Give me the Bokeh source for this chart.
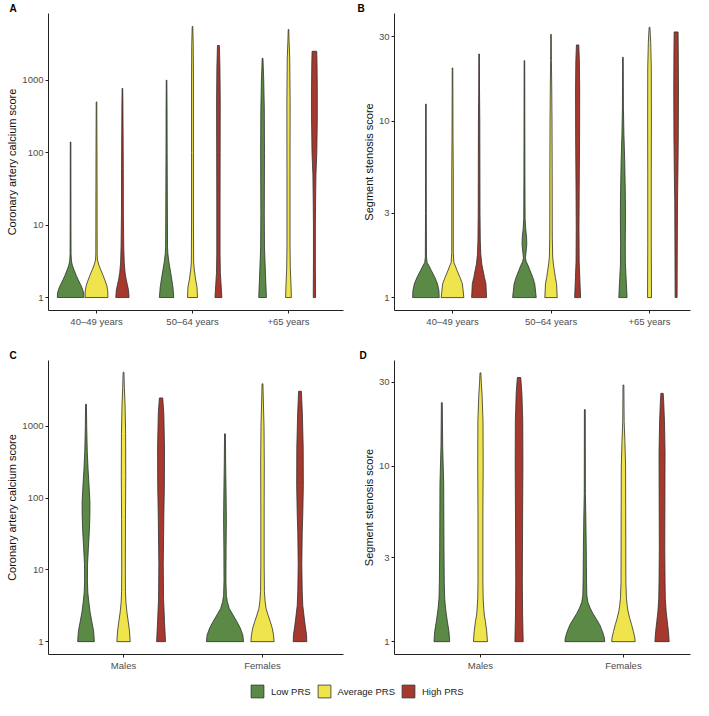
from bokeh.plotting import figure
from bokeh.models import Range1d, FixedTicker, PrintfTickFormatter, Legend, LegendItem, Title
from bokeh.layouts import column, row
from bokeh.embed import file_html
from bokeh.resources import INLINE

# ---------------- data ----------------
age_groups = ["40\u201349 years", "50\u201364 years", "+65 years"]
sex_groups = ["Males", "Females"]
prs_groups = ["Low PRS", "Average PRS", "High PRS"]
prs_colors = ["#5A8A45", "#F0E44C", "#A6392D"]

cac_ticks = [1, 10, 100, 1000]
sss_ticks = [1, 3, 10, 30]

cac_title = "Coronary artery calcium score"
sss_title = "Segment stenosis score"
panel_letters = ["A", "B", "C", "D"]

# Violin outlines: (score, half-width in category units), bottom to top
# Panel A: CAC by age group
cac_age_4049_low = [(1, 0.138), (1.15, 0.136), (1.3, 0.125), (1.5, 0.105), (1.75, 0.080), (2.0, 0.060),
                    (2.4, 0.036), (2.8, 0.018), (3.2, 0.009), (4.0, 0.005), (10, 0.004), (140, 0.003)]
cac_age_4049_avg = [(1, 0.119), (1.2, 0.118), (1.45, 0.108), (1.7, 0.090), (2.0, 0.070), (2.4, 0.045),
                    (2.8, 0.025), (3.3, 0.010), (4.0, 0.007), (30, 0.006), (100, 0.005), (500, 0.003)]
cac_age_4049_high = [(1, 0.069), (1.25, 0.064), (1.5, 0.052), (1.75, 0.040), (2.2, 0.028), (3, 0.019),
                     (5, 0.014), (14, 0.010), (60, 0.009), (200, 0.007), (500, 0.005), (770, 0.003)]
cac_age_5064_low = [(1, 0.075), (1.4, 0.066), (1.75, 0.055), (2.4, 0.038), (3.1, 0.024), (4, 0.014),
                    (5, 0.010), (20, 0.008), (100, 0.006), (400, 0.005), (1000, 0.003)]
cac_age_5064_avg = [(1, 0.052), (1.4, 0.047), (1.75, 0.033), (2.4, 0.019), (3.1, 0.012), (10, 0.010),
                    (100, 0.010), (1000, 0.010), (3000, 0.008), (5500, 0.003)]
cac_age_5064_high = [(1, 0.036), (1.5, 0.028), (2.2, 0.020), (4, 0.017), (20, 0.017), (100, 0.018),
                     (500, 0.019), (1500, 0.016), (3000, 0.010)]
cac_age_65_low = [(1, 0.040), (1.7, 0.033), (3, 0.026), (5, 0.020), (14, 0.018), (100, 0.020),
                  (400, 0.018), (1000, 0.012), (2000, 0.004)]
cac_age_65_avg = [(1, 0.030), (1.5, 0.026), (2.5, 0.019), (5, 0.016), (50, 0.016), (500, 0.017),
                  (2000, 0.013), (3500, 0.006), (5000, 0.003)]
cac_age_65_high = [(1, 0.012), (3, 0.010), (10, 0.010), (20, 0.012), (50, 0.016), (100, 0.025),
                   (300, 0.030), (800, 0.030), (1800, 0.027), (2500, 0.024)]

# Panel B: segment stenosis score by age group
sss_age_4049_low = [(1, 0.135), (1.095, 0.132), (1.195, 0.118), (1.30, 0.091), (1.42, 0.056), (1.52, 0.029),
                    (1.58, 0.012), (1.7, 0.006), (3, 0.004), (12.5, 0.003)]
sss_age_4049_avg = [(1, 0.115), (1.2, 0.100), (1.30, 0.076), (1.42, 0.047), (1.52, 0.027), (1.58, 0.014),
                    (1.8, 0.008), (5, 0.008), (8, 0.005), (20, 0.003)]
sss_age_4049_high = [(1, 0.076), (1.2, 0.069), (1.3, 0.054), (1.42, 0.041), (1.55, 0.027), (1.76, 0.017),
                     (2.1, 0.012), (3, 0.009), (10, 0.007), (15, 0.004), (24, 0.003)]
sss_age_5064_low = [(1, 0.120), (1.195, 0.105), (1.3, 0.085), (1.42, 0.058), (1.52, 0.037), (1.6, 0.018),
                    (1.68, 0.010), (1.8, 0.016), (2.0, 0.024), (2.2, 0.022), (2.45, 0.013), (2.8, 0.007),
                    (5, 0.005), (10, 0.004), (22, 0.003)]
sss_age_5064_avg = [(1, 0.063), (1.2, 0.056), (1.3, 0.044), (1.42, 0.034), (1.55, 0.024), (1.7, 0.017),
                    (2.2, 0.013), (5, 0.012), (10, 0.010), (16, 0.007), (22, 0.004), (31, 0.003)]
sss_age_5064_high = [(1, 0.030), (1.3, 0.022), (1.6, 0.016), (2.5, 0.014), (4, 0.016), (8, 0.020),
                     (15, 0.021), (22, 0.018), (27, 0.012)]
sss_age_65_low = [(1, 0.042), (1.3, 0.032), (1.55, 0.025), (2, 0.024), (3, 0.026), (4, 0.024), (6, 0.018),
                  (8.5, 0.010), (12, 0.005), (23, 0.003)]
sss_age_65_avg = [(1, 0.020), (2, 0.018), (5, 0.018), (10, 0.019), (20, 0.018), (28, 0.012), (34, 0.004)]
sss_age_65_high = [(1, 0.010), (2, 0.012), (3.5, 0.014), (5, 0.018), (8, 0.022), (15, 0.024), (25, 0.022),
                   (32, 0.020)]

# Panel C: CAC by sex
cac_sex_m_low = [(1, 0.060), (1.4, 0.055), (1.9, 0.042), (2.6, 0.029), (3.6, 0.020), (4.9, 0.013), (7, 0.010),
                 (12, 0.011), (20, 0.017), (35, 0.024), (60, 0.028), (90, 0.028), (150, 0.022), (250, 0.015),
                 (450, 0.009), (1000, 0.005), (2040, 0.003)]
cac_sex_m_avg = [(1, 0.048), (1.4, 0.043), (1.9, 0.034), (2.6, 0.024), (3.6, 0.017), (5, 0.014), (10, 0.013),
                 (50, 0.014), (200, 0.016), (800, 0.015), (2000, 0.011), (3500, 0.006), (5700, 0.003)]
cac_sex_m_high = [(1, 0.032), (1.9, 0.025), (4, 0.018), (12, 0.016), (56, 0.020), (150, 0.024), (500, 0.025),
                  (1500, 0.020), (2500, 0.012)]
cac_sex_f_low = [(1, 0.134), (1.25, 0.128), (1.55, 0.110), (1.9, 0.086), (2.35, 0.058), (2.9, 0.031),
                 (3.6, 0.017), (4.4, 0.010), (7, 0.007), (20, 0.008), (50, 0.010), (120, 0.008), (300, 0.005),
                 (790, 0.003)]
cac_sex_f_avg = [(1, 0.084), (1.25, 0.079), (1.55, 0.070), (1.9, 0.056), (2.35, 0.040), (2.9, 0.026),
                 (3.6, 0.019), (5, 0.014), (12, 0.012), (60, 0.012), (300, 0.013), (1000, 0.011), (2000, 0.007),
                 (3940, 0.003)]
cac_sex_f_high = [(1, 0.049), (1.25, 0.047), (1.7, 0.037), (2.35, 0.028), (3.2, 0.020), (5, 0.016), (12, 0.013),
                  (33, 0.016), (60, 0.020), (150, 0.024), (500, 0.023), (1500, 0.017), (3100, 0.010)]

# Panel D: segment stenosis score by sex
sss_sex_m_low = [(1, 0.055), (1.14, 0.050), (1.3, 0.039), (1.42, 0.032), (1.55, 0.026), (1.76, 0.020),
                 (2.2, 0.017), (3.4, 0.015), (5.2, 0.014), (8, 0.013), (10.5, 0.009), (13, 0.006), (23, 0.003)]
sss_sex_m_avg = [(1, 0.049), (1.14, 0.044), (1.3, 0.035), (1.42, 0.027), (1.55, 0.023), (1.76, 0.019),
                 (2.2, 0.017), (5, 0.017), (10, 0.019), (18, 0.018), (25, 0.012), (30, 0.006), (34, 0.003)]
sss_sex_m_high = [(1, 0.029), (1.42, 0.025), (2.2, 0.023), (5.2, 0.025), (10, 0.027), (18, 0.026), (26, 0.020),
                  (32, 0.012)]
sss_sex_f_low = [(1, 0.139), (1.05, 0.137), (1.14, 0.124), (1.25, 0.104), (1.36, 0.077), (1.45, 0.056),
                 (1.55, 0.038), (1.68, 0.021), (1.84, 0.014), (2.2, 0.012), (3.4, 0.010), (5.2, 0.007),
                 (7, 0.004), (21, 0.003)]
sss_sex_f_avg = [(1, 0.082), (1.05, 0.080), (1.14, 0.070), (1.25, 0.057), (1.36, 0.044), (1.48, 0.033),
                 (1.61, 0.026), (1.76, 0.021), (2.2, 0.017), (5, 0.016), (10, 0.015), (14, 0.010), (18, 0.005),
                 (29, 0.003)]
sss_sex_f_high = [(1, 0.050), (1.14, 0.045), (1.3, 0.037), (1.48, 0.029), (1.76, 0.023), (2.2, 0.021),
                  (3.4, 0.019), (6, 0.020), (12, 0.021), (18, 0.017), (23, 0.012), (26, 0.008)]

# ---------------- styling ----------------
FONT = "Liberation Sans"
AXIS_COLOR = "#222222"
OUTLINE = "#2E2E2E"
TICK_TEXT = "#4D4D4D"
DODGE = 0.27


def build_panel(width, height, borders, xr, yr, cats, yticks, ytitle, violins, letter, letter_pad):
    left, right, top, bottom = borders
    p = figure(width=width, height=height, x_range=Range1d(*xr), y_range=Range1d(*yr),
               y_axis_type="log", output_backend="svg", toolbar_location=None, title=None,
               min_border_left=left, min_border_right=right, min_border_top=top,
               min_border_bottom=bottom)
    p.xgrid.visible = False
    p.ygrid.visible = False
    p.outline_line_color = None
    p.background_fill_color = "white"

    for i, trio in enumerate(violins):
        for j, outline in enumerate(trio):
            c = i + 1 + (j - 1) * DODGE
            vals = [v for v, _ in outline]
            half = [w for _, w in outline]
            xs = [c - w for w in half] + [c + w for w in reversed(half)]
            ys = vals + vals[::-1]
            p.patch(xs, ys, fill_color=prs_colors[j], line_color=OUTLINE, line_width=0.8)

    xa = p.xaxis[0]
    ya = p.yaxis[0]
    xa.ticker = FixedTicker(ticks=list(range(1, len(cats) + 1)))
    xa.major_label_overrides = {i + 1: c for i, c in enumerate(cats)}
    ya.ticker = FixedTicker(ticks=yticks)
    ya.formatter = PrintfTickFormatter(format="%d")
    ya.axis_label = ytitle
    for ax in (xa, ya):
        ax.axis_line_color = AXIS_COLOR
        ax.axis_line_width = 1
        ax.major_tick_line_color = AXIS_COLOR
        ax.major_tick_line_width = 1
        ax.major_tick_out = 3
        ax.major_tick_in = 0
        ax.minor_tick_line_color = None
        ax.major_label_text_font = FONT
        ax.major_label_text_font_size = "9.5px"
        ax.major_label_text_color = TICK_TEXT
        ax.axis_label_text_font = FONT
        ax.axis_label_text_font_size = "11px"
        ax.axis_label_text_font_style = "normal"
        ax.axis_label_text_color = "#111111"
    xa.major_label_standoff = 2
    ya.major_label_standoff = 2
    ya.axis_label_standoff = 1

    p.add_layout(Title(text=letter, align="left", offset=-left + letter_pad, standoff=0,
                       text_font=FONT, text_font_style="bold", text_font_size="10px",
                       text_color="#000000"), "above")
    return p


pA = build_panel(354, 330, (48, 11, 12, 20), (0.5, 3.573), (0.662, 8300), age_groups, cac_ticks, cac_title,
                 [[cac_age_4049_low, cac_age_4049_avg, cac_age_4049_high],
                  [cac_age_5064_low, cac_age_5064_avg, cac_age_5064_high],
                  [cac_age_65_low, cac_age_65_avg, cac_age_65_high]], panel_letters[0], 9)
pB = build_panel(339, 330, (40, 3, 12, 20), (0.411, 3.416), (0.845, 40.7), age_groups, sss_ticks, sss_title,
                 [[sss_age_4049_low, sss_age_4049_avg, sss_age_4049_high],
                  [sss_age_5064_low, sss_age_5064_avg, sss_age_5064_high],
                  [sss_age_65_low, sss_age_65_avg, sss_age_65_high]], panel_letters[1], 3)
pC = build_panel(354, 344, (48, 11, 30, 20), (0.46, 2.583), (0.662, 8320), sex_groups, cac_ticks, cac_title,
                 [[cac_sex_m_low, cac_sex_m_avg, cac_sex_m_high],
                  [cac_sex_f_low, cac_sex_f_avg, cac_sex_f_high]], panel_letters[2], 9)
pD = build_panel(339, 344, (40, 3, 30, 20), (0.399, 2.469), (0.845, 40.0), sex_groups, sss_ticks, sss_title,
                 [[sss_sex_m_low, sss_sex_m_avg, sss_sex_m_high],
                  [sss_sex_f_low, sss_sex_f_avg, sss_sex_f_high]], panel_letters[3], 5)

# legend strip (dummy bars sit outside the visible range; only their legend keys show)
lp = figure(width=693, height=26, x_range=Range1d(0, 1), y_range=Range1d(0, 1), output_backend="svg",
            toolbar_location=None, title=None, x_axis_location=None, y_axis_location=None,
            min_border=0)
lp.xgrid.visible = False
lp.ygrid.visible = False
lp.outline_line_color = None
items = []
for name, color in zip(prs_groups, prs_colors):
    r = lp.vbar(x=[-5], bottom=[-5], top=[-4], width=0.1, fill_color=color, line_color=OUTLINE,
                line_width=0.8)
    items.append(LegendItem(label=name, renderers=[r]))
legend = Legend(items=items, orientation="horizontal", location=(249, 1),
                glyph_width=16, glyph_height=16, label_height=16, label_standoff=6, spacing=5,
                padding=0, margin=0, border_line_color=None, background_fill_alpha=0,
                label_text_font=FONT, label_text_font_size="9.5px", label_text_color="#222222")
lp.add_layout(legend, "center")

layout = column(row(pA, pB), row(pC, pD), lp)
open("out.html", "w").write(file_html(layout, INLINE))
